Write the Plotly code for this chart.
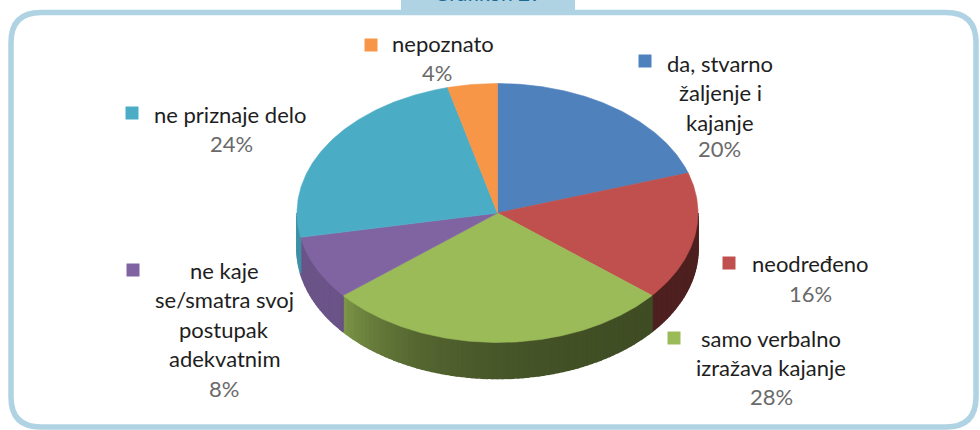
import numpy as np
import plotly.graph_objects as go

# ---------------- data ----------------
categories = ["da, stvarno žaljenje i kajanje", "neodređeno", "samo verbalno izražava kajanje",
              "ne kaje se/smatra svoj postupak adekvatnim", "ne priznaje delo", "nepoznato"]
values = [20, 16, 28, 8, 24, 4]
label_lines = [["da, stvarno", "žaljenje i", "kajanje"],
               ["neodređeno"],
               ["samo verbalno", "izražava kajanje"],
               ["ne kaje", "se/smatra svoj", "postupak", "adekvatnim"],
               ["ne priznaje delo"],
               ["nepoznato"]]
colors = ["#4F81BD", "#C0504D", "#9BBB59", "#8064A2", "#4BACC6", "#F79646"]
title_tab = "Grafikon 29"

# ---------------- layout constants ----------------
W, H = 980, 430
CX, CY, RX, RY, DEPTH = 497.5, 213.0, 200.5, 129.5, 36.0
FONT = "Lato"
FS = 22
LINE_H = 29.5
label_pos = [(720, 63), (810, 263), (771, 338), (224, 270), (230, 114), (443, 43)]
pct_pos = [(719, 148), (810, 293), (771, 396), (224, 388), (231, 143), (437, 72)]
marker_pos = [(645, 61), (729, 263), (674, 338), (133, 270), (132, 113), (371, 45)]

total = float(sum(values))
cum = np.concatenate([[0.0], np.cumsum(values)]) / total * 360.0


def pt(theta, dy=0.0):
    t = np.radians(theta)
    return CX + RX * np.sin(t), CY - RY * np.cos(t) + dy


def hex_to_rgb(h):
    h = h.lstrip("#")
    return tuple(int(h[i:i + 2], 16) for i in (0, 2, 4))


def shade(hexc, f):
    r, g, b = hex_to_rgb(hexc)
    return "rgb(%d,%d,%d)" % (min(255, r * f), min(255, g * f), min(255, b * f))


def side_factor(theta):
    return min(0.84, 0.40 + 0.40 * np.exp(-(230.0 - theta) / 28.0))


fig = go.Figure()

# side walls (front half of the ellipse)
for i in range(len(values)):
    a, b = cum[i], cum[i + 1]
    lo, hi = max(a, 90.0), min(b, 270.0)
    if hi <= lo:
        continue
    n = max(1, int(np.ceil((hi - lo) / 1.5)))
    edges = np.linspace(lo, hi, n + 1)
    for j in range(n):
        t0, t1 = edges[j], edges[j + 1]
        ts = np.linspace(t0, t1, 4)
        xs_top, ys_top = pt(ts)
        xs_bot, ys_bot = pt(ts[::-1], DEPTH)
        xs = np.concatenate([xs_top, xs_bot, xs_top[:1]])
        ys = np.concatenate([ys_top, ys_bot, ys_top[:1]])
        c = shade(colors[i], side_factor(0.5 * (t0 + t1)))
        fig.add_trace(go.Scatter(x=xs, y=ys, mode="lines", fill="toself", fillcolor=c,
                                 line=dict(color=c, width=1.6), hoverinfo="skip", showlegend=False))

# top faces
for i in range(len(values)):
    a, b = cum[i], cum[i + 1]
    ts = np.linspace(a, b, max(8, int((b - a) * 2)))
    xa, ya = pt(ts)
    xs = np.concatenate([[CX], xa, [CX]])
    ys = np.concatenate([[CY], ya, [CY]])
    fig.add_trace(go.Scatter(x=xs, y=ys, mode="lines", fill="toself", fillcolor=colors[i],
                             line=dict(color=colors[i], width=0.6), name=categories[i],
                             hoverinfo="name", showlegend=False))

# legend-key markers beside labels
fig.add_trace(go.Scatter(x=[p[0] for p in marker_pos], y=[p[1] for p in marker_pos],
                         mode="markers", marker=dict(symbol="square", size=13, color=colors),
                         hoverinfo="skip", showlegend=False))

annotations = []
for i in range(len(values)):
    lx, ly = label_pos[i]
    for k, line in enumerate(label_lines[i]):
        annotations.append(dict(x=lx, y=ly + k * LINE_H, xref="x", yref="y", text=line,
                                showarrow=False, xanchor="center", yanchor="middle",
                                font=dict(family=FONT, size=FS, color="#1E1E1E")))
    px, py = pct_pos[i]
    pct = "%d%%" % round(values[i] / total * 100)
    annotations.append(dict(x=px, y=py, xref="x", yref="y", text=pct, showarrow=False,
                            xanchor="center", yanchor="middle",
                            font=dict(family=FONT, size=FS, color="#6A6A6A")))

annotations.append(dict(x=488, y=7, xref="x", yref="y", text=title_tab, showarrow=False,
                        xanchor="center", yanchor="bottom",
                        font=dict(family=FONT, size=21, color="#1B6A94")))

L, T, R, B, r = 11, 12.5, 976, 427, 30
frame = (f"M {L + r},{T} L {R - r},{T} Q {R},{T} {R},{T + r} L {R},{B - r} Q {R},{B} {R - r},{B} "
         f"L {L + r},{B} Q {L},{B} {L},{B - r} L {L},{T + r} Q {L},{T} {L + r},{T} Z")
shapes = [
    dict(type="path", path=frame, xref="x", yref="y", line=dict(color="#B0D3E3", width=5.5),
         layer="below"),
    dict(type="rect", x0=401, x1=575, y0=-5, y1=13, xref="x", yref="y",
         fillcolor="#B0D3E3", line=dict(width=0), layer="below"),
]

fig.update_layout(
    width=W, height=H, margin=dict(l=0, r=0, t=0, b=0),
    paper_bgcolor="white", plot_bgcolor="white",
    xaxis=dict(range=[0, W], visible=False, fixedrange=True),
    yaxis=dict(range=[H, 0], visible=False, fixedrange=True),
    annotations=annotations, shapes=shapes, showlegend=False,
)

fig.write_html("out.html", config={"displayModeBar": False},
               post_script="document.body.style.margin='0';document.body.style.overflow='hidden';")
